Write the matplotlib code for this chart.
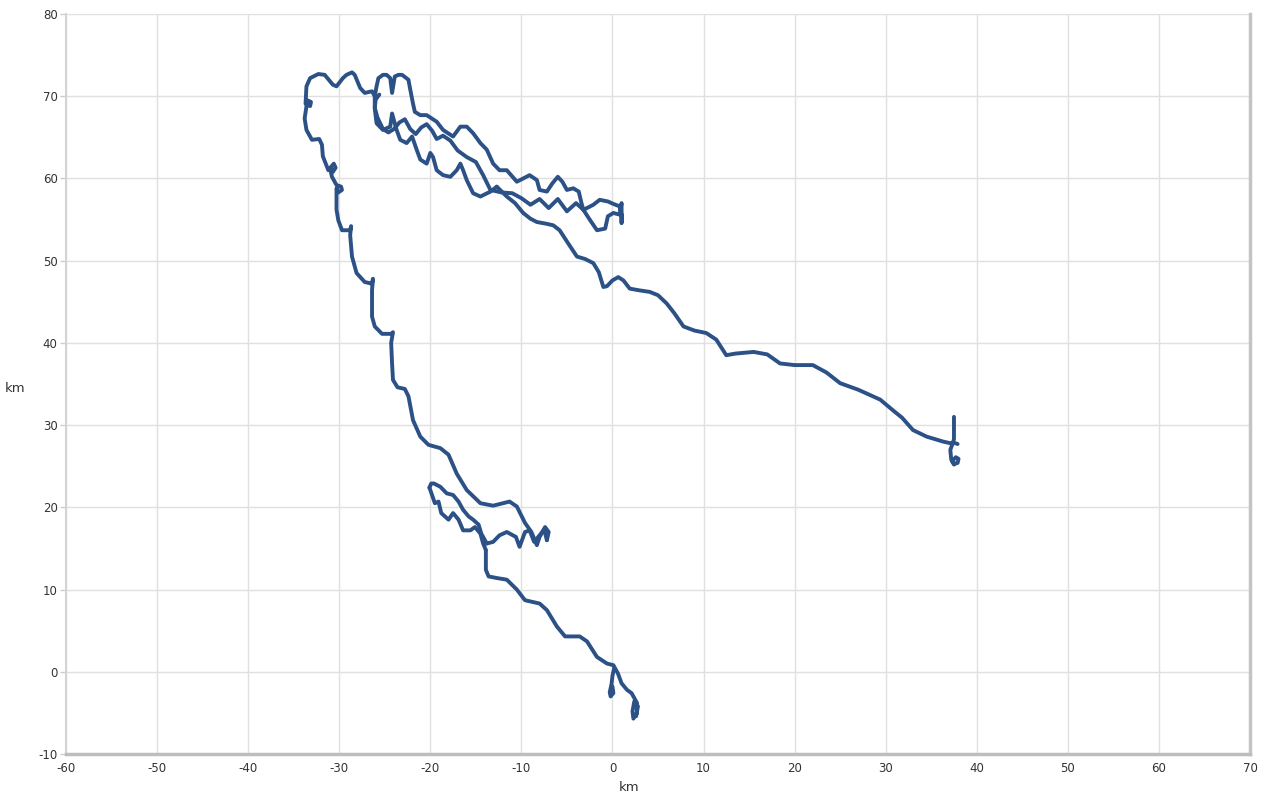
import matplotlib.pyplot as plt

plt.rcParams["axes.unicode_minus"] = False

# GPS track, split into legs (km east / km north of the start)
east_x = [37.5, 37.5, 37.5, 37.4, 37.1, 36.3, 34.5, 33.0, 31.8, 30.8, 29.4, 27.0, 25.0, 23.5, 22.0,
          20.0, 18.4, 17.0, 15.5, 13.5, 12.5, 11.4, 10.3, 9.0, 7.8, 6.8, 5.95, 5.0, 4.1, 2.9, 1.9,
          1.2, 0.64, 0.0, -0.6, -1.0, -1.5, -2.1, -3.0, -3.9, -4.8, -5.8, -6.5, -7.3, -8.3, -9.0,
          -9.8, -10.7, -11.6, -12.7]
east_y = [31.0, 29.5, 28.3, 27.9, 27.8, 28.0, 28.6, 29.4, 30.9, 31.8, 33.1, 34.3, 35.1, 36.4, 37.3,
          37.3, 37.5, 38.6, 38.9, 38.7, 38.5, 40.4, 41.2, 41.5, 42.0, 43.6, 44.8, 45.8, 46.2, 46.4, 46.6,
          47.6, 48.0, 47.6, 46.9, 46.8, 48.6, 49.7, 50.2, 50.5, 52.0, 53.7, 54.3, 54.5, 54.7, 55.1,
          55.8, 57.0, 57.8, 59.0]

# loop at the eastern end
east_loop_x = [37.9, 37.4, 37.1, 37.2, 37.5, 37.9, 38.0, 37.7, 37.3, 37.5]
east_loop_y = [27.7, 27.9, 27.0, 25.8, 25.3, 25.4, 25.9, 26.1, 25.6, 25.2]

# middle branch of the northern cluster, back to the junction
mid_x = [-12.7, -13.4, -14.5, -15.3, -16.0, -16.4, -16.7, -17.1, -17.8, -18.6, -19.3, -19.7, -20.0,
         -20.4, -21.1, -21.5, -22.0, -22.6, -23.3, -23.7, -24.2, -24.4, -25.2, -25.9, -26.1, -26.1]
mid_y = [59.0, 58.4, 57.8, 58.2, 59.8, 61.0, 61.8, 61.0, 60.2, 60.4, 61.0, 62.6, 63.1,
         61.8, 62.3, 63.5, 65.1, 64.3, 64.7, 65.9, 67.9, 66.3, 65.9, 66.7, 68.5, 70.0]

# top branch of the northern cluster, out to the turnaround near x=1
top_x = [-26.1, -25.9, -25.7, -25.2, -24.8, -24.4, -24.2, -23.9, -23.5, -23.1, -22.4, -22.2, -21.9,
         -21.7, -21.1, -20.4, -19.3, -18.6, -17.5, -16.7, -16.0, -15.3, -14.5, -13.8, -13.1, -12.4,
         -11.6, -10.5, -9.8, -9.1, -8.3, -8.0, -7.2, -6.6, -6.0, -5.5, -5.0, -4.3, -3.7, -3.4, -3.2,
         -2.5, -1.7, -0.8, -0.5, 0.1, 0.8, 1.0, 1.0, 1.0, 0.8, 0.1, -0.5, -1.4, -2.1, -2.8, -3.2]
top_y = [70.0, 71.2, 72.2, 72.6, 72.6, 72.2, 70.4, 72.4, 72.6, 72.6, 72.0, 70.8, 69.1,
         68.1, 67.7, 67.7, 66.9, 65.9, 65.1, 66.3, 66.3, 65.5, 64.3, 63.5, 61.8, 61.0,
         61.0, 59.6, 60.0, 60.4, 59.8, 58.6, 58.4, 59.4, 60.2, 59.6, 58.6, 58.8, 58.4, 57.0, 56.2,
         55.0, 53.7, 53.9, 55.4, 55.8, 55.6, 57.0, 54.6, 55.6, 56.6, 56.9, 57.2, 57.4, 56.8, 56.4, 56.2]

# lower branch of the northern cluster
low_x = [-3.2, -4.0, -5.0, -6.0, -7.0, -8.0, -9.0, -10.0, -11.0, -12.2, -13.4, -14.2, -15.0, -16.0,
         -17.0, -17.8, -18.6, -19.3, -19.8, -20.4, -21.0, -21.6, -22.2, -22.8, -23.4, -24.0, -24.6,
         -25.2, -25.8, -26.1, -26.0, -25.6]
low_y = [56.2, 57.0, 56.0, 57.5, 56.4, 57.5, 56.8, 57.6, 58.2, 58.3, 58.6, 60.4, 62.0, 62.6,
         63.4, 64.6, 65.2, 64.8, 65.8, 66.6, 66.2, 65.4, 66.0, 67.2, 66.8, 66.0, 65.6,
         66.0, 67.4, 68.6, 69.6, 70.2]

# western loop and the long descent south
west_x = [-26.1, -26.4, -27.2, -27.7, -28.3, -28.6, -29.2, -29.6, -30.3, -30.7, -31.6, -32.3, -33.2,
          -33.6, -33.7, -33.2, -33.1, -33.5, -33.8, -33.6, -33.0, -32.2, -31.9, -31.8, -31.2, -30.6,
          -30.4, -30.7, -31.0, -30.8, -30.3, -29.8, -29.7, -30.1, -30.3, -30.3, -30.1, -29.7, -28.8,
          -28.7, -28.8, -28.6, -28.1, -27.2, -26.4, -26.3, -26.4, -26.4, -26.1, -25.3, -24.3, -24.1,
          -24.3, -24.2, -24.1, -23.6, -22.8, -22.4, -21.9, -21.1, -20.2, -18.9, -18.0, -17.1, -16.0,
          -14.5, -13.1, -11.3, -10.5, -9.6, -8.9, -8.3, -8.0, -7.4, -7.0, -7.2]
west_y = [70.0, 70.6, 70.4, 71.0, 72.6, 72.9, 72.6, 72.2, 71.2, 71.4, 72.6, 72.7, 72.2,
          71.2, 69.1, 68.8, 69.3, 69.5, 67.3, 65.9, 64.7, 64.8, 64.1, 62.7, 61.0, 61.8,
          61.3, 60.8, 61.2, 60.2, 59.2, 59.0, 58.6, 58.3, 58.8, 56.2, 54.9, 53.7, 53.7,
          54.2, 53.1, 50.5, 48.5, 47.4, 47.2, 47.8, 46.4, 43.2, 42.0, 41.1, 41.1, 41.3,
          40.0, 37.5, 35.5, 34.6, 34.4, 33.5, 30.6, 28.6, 27.6, 27.2, 26.4, 24.1, 22.1,
          20.5, 20.2, 20.7, 20.1, 18.1, 17.0, 15.4, 16.4, 17.6, 17.0, 16.0]

# zigzag back west from the southern turnaround
zig_x = [-7.2, -7.5, -8.0, -8.6, -9.1, -9.6, -10.2, -10.6, -11.6, -12.4, -13.1, -13.8]
zig_y = [16.0, 17.3, 16.6, 15.8, 17.2, 17.0, 15.2, 16.4, 17.0, 16.6, 15.8, 15.6]

# two wiggly passes out to the south-western blob and back
wig1_x = [-13.8, -14.4, -14.7, -15.3, -15.8, -16.4, -16.9, -17.5, -18.2, -18.9, -19.6, -19.9, -20.1]
wig1_y = [15.6, 16.8, 17.9, 18.5, 18.9, 19.7, 20.7, 21.5, 21.7, 22.5, 22.9, 22.9, 22.4]
wig2_x = [-20.1, -20.0, -19.5, -19.1, -18.8, -18.0, -17.5, -16.9, -16.4, -15.6, -15.1, -14.5, -14.2, -13.9]
wig2_y = [22.4, 22.1, 20.5, 20.7, 19.3, 18.5, 19.3, 18.5, 17.2, 17.2, 17.6, 16.8, 15.6, 14.8]

# final run south to the finish
south_x = [-13.9, -13.9, -13.6, -12.7, -11.6, -10.5, -9.6, -8.0, -7.2, -6.1, -5.2, -3.6, -2.8,
           -1.7, -0.6, 0.1, 0.6, 1.0, 1.6, 2.1, 2.7, 2.7, 2.3, 2.2, 2.4, 2.8, 2.6]
south_y = [14.8, 12.4, 11.6, 11.4, 11.2, 10.0, 8.7, 8.3, 7.5, 5.5, 4.3, 4.3, 3.7,
           1.8, 1.0, 0.8, -0.2, -1.4, -2.2, -2.6, -3.8, -5.0, -5.7, -4.8, -3.6, -4.2, -5.4]

# short spur near the origin
spur_x = [0.2, 0.0, -0.1, -0.3, -0.2, 0.1, 0.0]
spur_y = [0.5, -0.5, -1.5, -2.5, -3.0, -2.6, -1.8]

legs = [
    (east_x, east_y), (east_loop_x, east_loop_y), (mid_x, mid_y), (top_x, top_y),
    (low_x, low_y), (west_x, west_y), (zig_x, zig_y), (wig1_x, wig1_y),
    (wig2_x, wig2_y), (south_x, south_y), (spur_x, spur_y),
]

track_color = "#2c5186"
grid_color = "#e0e0e0"

fig = plt.figure(figsize=(12.65, 8), dpi=100)
ax = fig.add_axes([0.0522, 0.0575, 0.9359, 0.925])

for xs, ys in legs:
    ax.plot(xs, ys, color=track_color, linewidth=2.8,
            solid_joinstyle="round", solid_capstyle="round", zorder=3)

ax.set_xlim(-60, 70)
ax.set_ylim(-10, 80)
ax.set_xticks(range(-60, 71, 10))
ax.set_yticks(range(-10, 81, 10))
ax.grid(True, color=grid_color, linewidth=1)
ax.set_axisbelow(True)

ax.tick_params(axis="x", length=0, pad=6, labelsize=8.5, labelcolor="#333333")
ax.tick_params(axis="y", length=4, width=1, color="#cccccc", pad=2,
               labelsize=8.5, labelcolor="#333333")

ax.spines["top"].set_visible(False)
ax.spines["left"].set_color("#d4d4d4")
ax.spines["left"].set_linewidth(1.5)
ax.spines["bottom"].set_color("#bdbdbd")
ax.spines["bottom"].set_linewidth(2.5)
ax.spines["right"].set_color("#c4c4c4")
ax.spines["right"].set_linewidth(2.5)

fig.text(0.497, 0.008, "km", fontsize=9.5, color="#333333", ha="center", va="bottom")
fig.text(0.012, 0.515, "km", fontsize=9.5, color="#333333", ha="center", va="center")

fig.savefig("out.png", dpi=100)
